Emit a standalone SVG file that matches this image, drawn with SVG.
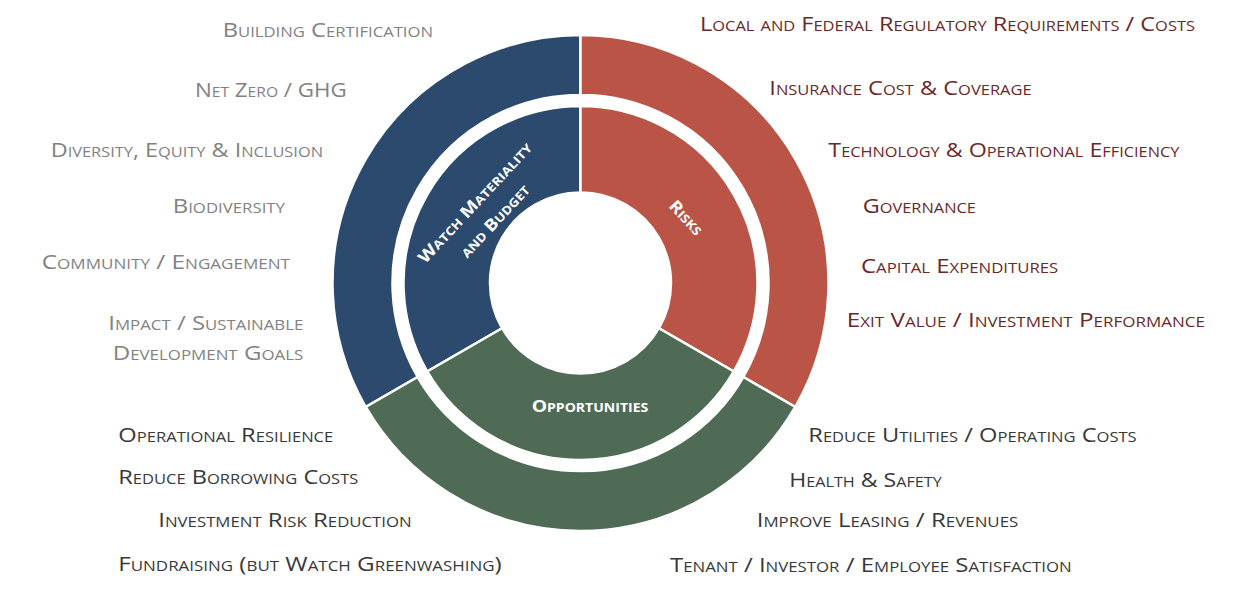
<svg xmlns="http://www.w3.org/2000/svg" width="1257" height="594" viewBox="0 0 1257 594">
  <style>
    .seg { stroke: #ffffff; stroke-width: 2.5; stroke-linejoin: miter; }
    .blue { fill: #2C4A6E; }
    .red { fill: #B95446; }
    .green { fill: #4F6B55; }
    .lbl { font-family: "Open Sans", "Liberation Sans", sans-serif; font-size: 20px; font-variant: small-caps; }
    .gray { fill: #828282; }
    .dred { fill: #6B2828; }
    .dark { fill: #383838; }
    .inner { font-family: "Open Sans", "Liberation Sans", sans-serif; font-size: 16.5px; font-weight: bold; font-variant: small-caps; fill: #ffffff; }
  </style>
  <rect x="0" y="0" width="1257" height="594" fill="#ffffff"/>

  <g id="outer-ring">
    <path id="outer-esg" class="seg blue" d="M 580.5,35 A 248 248 0 0 0 365.73,407 L 417.69,377 A 188 188 0 0 1 580.5,95 Z"/>
    <path id="outer-risks" class="seg red" d="M 580.5,35 A 248 248 0 0 1 795.27,407 L 743.31,377 A 188 188 0 0 0 580.5,95 Z"/>
    <path id="outer-opps" class="seg green" d="M 365.73,407 A 248 248 0 0 0 795.27,407 L 743.31,377 A 188 188 0 0 1 417.69,377 Z"/>
  </g>

  <g id="node-watch">
    <path class="seg blue" d="M 580.5,106 A 177 177 0 0 0 427.22,371.5 L 502.12,328.25 A 90.5 90.5 0 0 1 580.5,192.5 Z"/>
    <g transform="translate(488.7,215.3) rotate(-47)">
      <text class="inner" x="0" y="-13" text-anchor="middle" textLength="158" lengthAdjust="spacingAndGlyphs">Watch Materiality</text>
      <text class="inner" x="0" y="14" text-anchor="middle" textLength="93" lengthAdjust="spacingAndGlyphs">and Budget</text>
    </g>
  </g>

  <g id="node-risks">
    <path class="seg red" d="M 580.5,106 A 177 177 0 0 1 733.78,371.5 L 658.88,328.25 A 90.5 90.5 0 0 0 580.5,192.5 Z"/>
    <text class="inner" transform="translate(682,221.5) rotate(47)" x="0" y="0" text-anchor="middle" textLength="41" lengthAdjust="spacingAndGlyphs">Risks</text>
  </g>

  <g id="node-opportunities">
    <path class="seg green" d="M 427.22,371.5 A 177 177 0 0 0 733.78,371.5 L 658.88,328.25 A 90.5 90.5 0 0 1 502.12,328.25 Z"/>
    <text class="inner" x="531.7" y="412.3" textLength="116.6" lengthAdjust="spacingAndGlyphs">Opportunities</text>
  </g>

  <g id="labels-esg">
    <text class="lbl gray" x="222.7" y="37.3" textLength="210.3" lengthAdjust="spacingAndGlyphs">Building Certification</text>
    <text class="lbl gray" x="195" y="97.3" textLength="151.7" lengthAdjust="spacingAndGlyphs">Net Zero / GHG</text>
    <text class="lbl gray" x="50.7" y="156.7" textLength="272.3" lengthAdjust="spacingAndGlyphs">Diversity, Equity &amp; Inclusion</text>
    <text class="lbl gray" x="172.7" y="213.3" textLength="112.3" lengthAdjust="spacingAndGlyphs">Biodiversity</text>
    <text class="lbl gray" x="41.7" y="269.3" textLength="248.3" lengthAdjust="spacingAndGlyphs">Community / Engagement</text>
    <text class="lbl gray" x="108.3" y="330" textLength="195" lengthAdjust="spacingAndGlyphs">Impact / Sustainable</text>
    <text class="lbl gray" x="112.7" y="360" textLength="190.6" lengthAdjust="spacingAndGlyphs">Development Goals</text>
  </g>

  <g id="labels-risks">
    <text class="lbl dred" x="700" y="30.7" textLength="495" lengthAdjust="spacingAndGlyphs">Local and Federal Regulatory Requirements / Costs</text>
    <text class="lbl dred" x="769.3" y="95" textLength="262.4" lengthAdjust="spacingAndGlyphs">Insurance Cost &amp; Coverage</text>
    <text class="lbl dred" x="828.3" y="156.7" textLength="351" lengthAdjust="spacingAndGlyphs">Technology &amp; Operational Efficiency</text>
    <text class="lbl dred" x="862.7" y="212.7" textLength="113.3" lengthAdjust="spacingAndGlyphs">Governance</text>
    <text class="lbl dred" x="861" y="272.7" textLength="197.3" lengthAdjust="spacingAndGlyphs">Capital Expenditures</text>
    <text class="lbl dred" x="846.7" y="327.3" textLength="358.3" lengthAdjust="spacingAndGlyphs">Exit Value / Investment Performance</text>
  </g>

  <g id="labels-opportunities">
    <text class="lbl dark" x="118.3" y="441.7" textLength="215" lengthAdjust="spacingAndGlyphs">Operational Resilience</text>
    <text class="lbl dark" x="118.3" y="484.3" textLength="240" lengthAdjust="spacingAndGlyphs">Reduce Borrowing Costs</text>
    <text class="lbl dark" x="158.3" y="526.7" textLength="253.4" lengthAdjust="spacingAndGlyphs">Investment Risk Reduction</text>
    <text class="lbl dark" x="118.3" y="571" textLength="383.4" lengthAdjust="spacingAndGlyphs">Fundraising (but Watch Greenwashing)</text>
    <text class="lbl dark" x="808.3" y="441.7" textLength="328.4" lengthAdjust="spacingAndGlyphs">Reduce Utilities / Operating Costs</text>
    <text class="lbl dark" x="789.3" y="487.3" textLength="152.4" lengthAdjust="spacingAndGlyphs">Health &amp; Safety</text>
    <text class="lbl dark" x="756.7" y="526.7" textLength="261.6" lengthAdjust="spacingAndGlyphs">Improve Leasing / Revenues</text>
    <text class="lbl dark" x="670" y="571.7" textLength="401.7" lengthAdjust="spacingAndGlyphs">Tenant / Investor / Employee Satisfaction</text>
  </g>
</svg>
